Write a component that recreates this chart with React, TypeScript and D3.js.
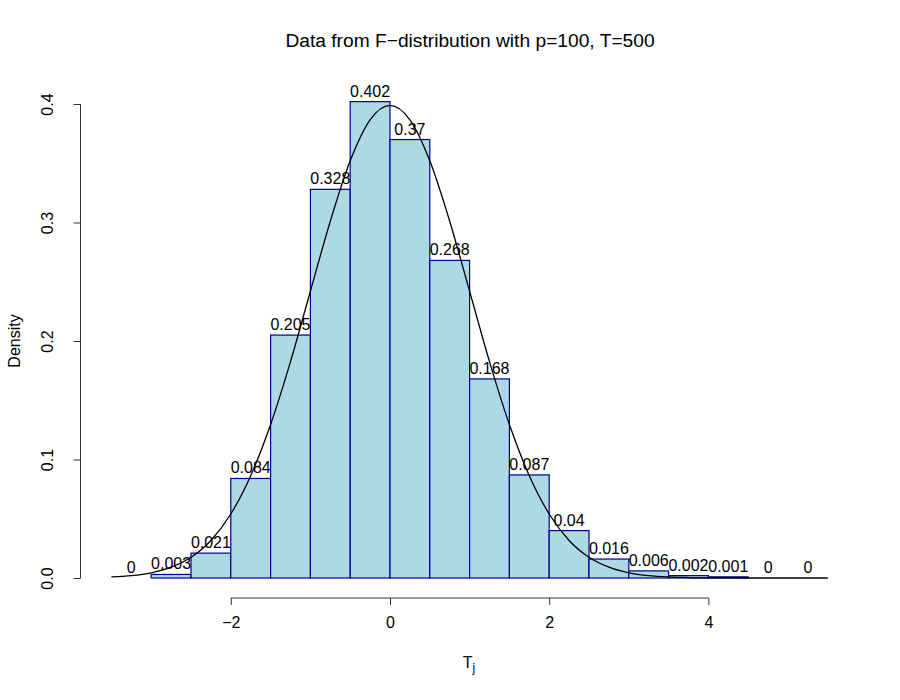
import { useEffect, useRef } from "react";
import * as d3 from "d3";

// histogram bins (left edges, width 0.5) and densities
const binStarts = [-3.5, -3, -2.5, -2, -1.5, -1, -0.5, 0, 0.5, 1, 1.5, 2, 2.5, 3, 3.5, 4, 4.5, 5];
const densities = [0, 0.003, 0.021, 0.084, 0.205, 0.328, 0.402, 0.37, 0.268, 0.168, 0.087, 0.04, 0.016, 0.006, 0.002, 0.001, 0, 0];
const densityLabels = ["0", "0.003", "0.021", "0.084", "0.205", "0.328", "0.402", "0.37", "0.268", "0.168", "0.087", "0.04", "0.016", "0.006", "0.002", "0.001", "0", "0"];

// reference density curve
const curveX = [-3.5, -3.25, -3, -2.75, -2.5, -2.25, -2, -1.75, -1.5, -1.25, -1, -0.75, -0.5, -0.25, 0, 0.25, 0.5, 0.75, 1, 1.25, 1.5, 1.75, 2, 2.25, 2.5, 2.75, 3, 3.25, 3.5, 3.75, 4, 4.5, 5, 5.5];
const curveY = [0.0009, 0.002, 0.0044, 0.0091, 0.0175, 0.0317, 0.054, 0.0863, 0.1295, 0.1826, 0.242, 0.3011, 0.3521, 0.3867, 0.3989, 0.3867, 0.3521, 0.3011, 0.242, 0.1826, 0.1295, 0.0863, 0.054, 0.0317, 0.0175, 0.0091, 0.0044, 0.002, 0.0009, 0.0004, 0.0001, 0, 0, 0];

const xTicks = [-2, 0, 2, 4];
const yTicks = [0, 0.1, 0.2, 0.3, 0.4];

const binWidth = 0.5;
const FONT = "'Liberation Sans', Arial, Helvetica, sans-serif";

export default function App() {
  const ref = useRef<SVGSVGElement>(null);

  useEffect(() => {
    const svg = d3.select(ref.current);
    svg.selectAll("*").remove();

    const x = d3.scaleLinear().domain([-3.5, 5.5]).range([111.4, 827.8]);
    const y = d3.scaleLinear().domain([0, 0.4]).range([578, 104]);
    const fmtMinus = (v: number) => (v < 0 ? "\u2212" + Math.abs(v) : String(v));

    svg.append("rect").attr("width", 900).attr("height", 700).attr("fill", "white");

    // bars
    svg
      .append("g")
      .selectAll("rect")
      .data(binStarts)
      .join("rect")
      .attr("x", (d) => x(d))
      .attr("y", (d, i) => y(densities[i]))
      .attr("width", (d) => x(d + binWidth) - x(d))
      .attr("height", (d, i) => y(0) - y(densities[i]))
      .attr("fill", "#ADD8E6")
      .attr("stroke", "#00008B")
      .attr("stroke-width", 1.2);

    // value labels
    svg
      .append("g")
      .selectAll("text")
      .data(binStarts)
      .join("text")
      .attr("x", (d) => x(d + binWidth / 2))
      .attr("y", (d, i) => y(densities[i]) - 5)
      .attr("text-anchor", "middle")
      .attr("font-family", FONT)
      .attr("font-size", 16)
      .text((d, i) => densityLabels[i]);

    // density curve
    const line = d3
      .line<number>()
      .x((d, i) => x(curveX[i]))
      .y((d) => y(d))
      .curve(d3.curveMonotoneX);
    svg
      .append("path")
      .attr("d", line(curveY))
      .attr("fill", "none")
      .attr("stroke", "black")
      .attr("stroke-width", 1.3);

    // x axis
    const xa = svg
      .append("g")
      .attr("transform", "translate(0,598)")
      .call(d3.axisBottom(x).tickValues(xTicks).tickSize(7).tickPadding(6).tickFormat((d) => fmtMinus(+d)));
    xa.select(".domain").remove();
    xa.append("line")
      .attr("x1", x(xTicks[0]))
      .attr("x2", x(xTicks[xTicks.length - 1]))
      .attr("stroke", "#333");
    xa.selectAll(".tick line").attr("stroke", "#333");
    xa.selectAll(".tick text")
      .attr("font-family", FONT)
      .attr("font-size", 16)
      .attr("fill", "black")
      .attr("dy", "1.05em");

    // y axis
    const ya = svg
      .append("g")
      .attr("transform", "translate(80.5,0)")
      .call(d3.axisLeft(y).tickValues(yTicks).tickSize(7).tickFormat((d) => d3.format(".1f")(+d)));
    ya.select(".domain").remove();
    ya.append("line").attr("y1", y(0)).attr("y2", y(0.4)).attr("stroke", "#333");
    ya.selectAll(".tick line").attr("stroke", "#333");
    ya.selectAll(".tick text")
      .attr("x", null)
      .attr("dy", null)
      .attr("text-anchor", "middle")
      .attr("transform", "translate(-28,0) rotate(-90)")
      .attr("font-family", FONT)
      .attr("font-size", 16)
      .attr("fill", "black");

    // title
    svg
      .append("text")
      .attr("x", 470)
      .attr("y", 47)
      .attr("text-anchor", "middle")
      .attr("font-family", FONT)
      .attr("font-size", 19.2)
      .text("Data from F\u2212distribution with p=100, T=500");

    // axis titles
    const xl = svg
      .append("text")
      .attr("x", 469)
      .attr("y", 668)
      .attr("text-anchor", "middle")
      .attr("font-family", FONT)
      .attr("font-size", 16);
    xl.append("tspan").text("T");
    xl.append("tspan").attr("font-size", 12).attr("dy", 4).text("j");

    svg
      .append("text")
      .attr("transform", "translate(20,341) rotate(-90)")
      .attr("text-anchor", "middle")
      .attr("font-family", FONT)
      .attr("font-size", 16)
      .text("Density");
  }, []);

  return (
    <svg
      ref={ref}
      width={900}
      height={700}
      style={{ position: "absolute", left: 0, top: 0 }}
    />
  );
}
